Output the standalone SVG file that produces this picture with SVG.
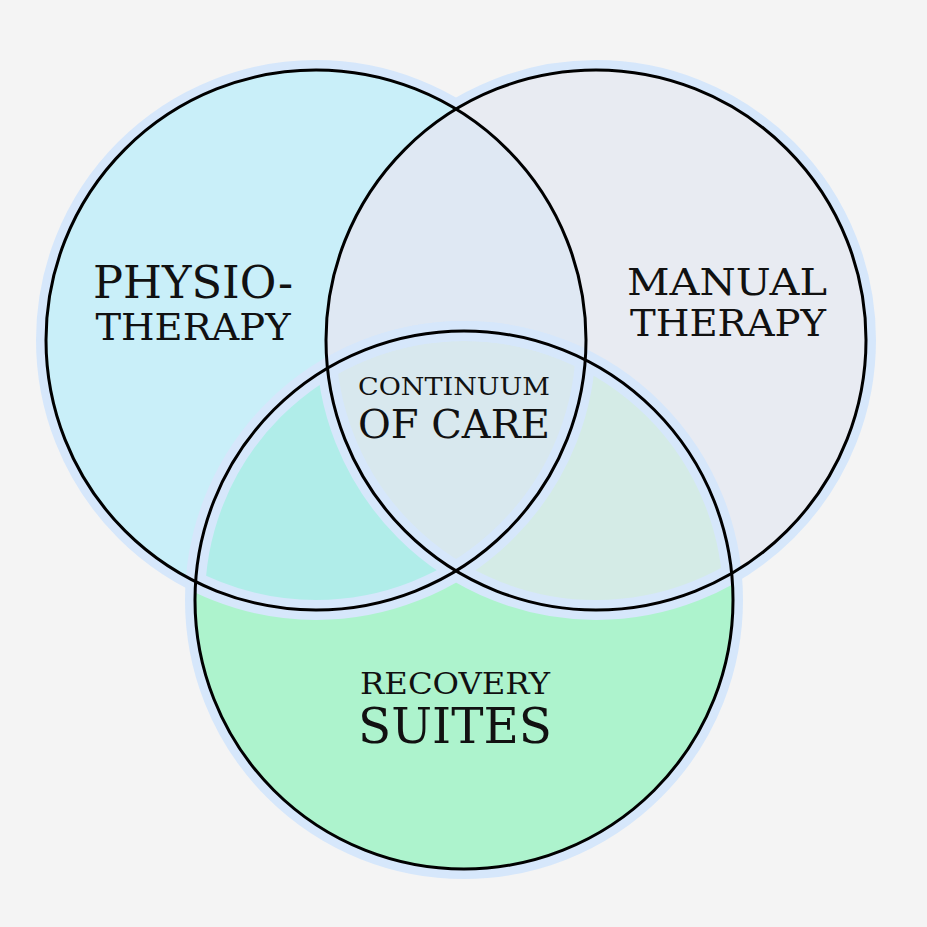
<svg xmlns="http://www.w3.org/2000/svg" width="927" height="927" viewBox="0 0 927 927">
<style>
.halo{fill:none;stroke:#d6e7fb;stroke-width:20}
.ln{fill:none;stroke:#000;stroke-width:3}
text{font-family:"DejaVu Serif","Liberation Serif",serif;fill:#111;text-anchor:middle}
</style>
<defs>
<clipPath id="cL"><circle cx="316" cy="340" r="270"/></clipPath>
<clipPath id="cR"><circle cx="596" cy="340" r="270"/></clipPath>
<clipPath id="cB"><circle cx="464" cy="600" r="269"/></clipPath>
</defs>
<rect width="927" height="927" fill="#f4f4f4"/>
<g id="halos">
<circle class="halo" cx="316" cy="340" r="270"/>
<circle class="halo" cx="596" cy="340" r="270"/>
<circle class="halo" cx="464" cy="600" r="269"/>
</g>
<g id="fills">
<circle cx="316" cy="340" r="270" fill="#c9eff9"/>
<circle cx="596" cy="340" r="270" fill="#e8ebf2"/>
<circle cx="464" cy="600" r="269" fill="#adf3cd"/>
<g clip-path="url(#cL)"><circle cx="596" cy="340" r="270" fill="#dfe8f3"/><circle cx="464" cy="600" r="269" fill="#b0ede9"/></g>
<g clip-path="url(#cR)"><circle cx="464" cy="600" r="269" fill="#d4ebe6"/></g>
<g clip-path="url(#cL)"><g clip-path="url(#cR)"><circle cx="464" cy="600" r="269" fill="#d8e8ee"/></g></g>
<g clip-path="url(#cB)">
<circle class="halo" cx="316" cy="340" r="270" stroke-width="9"/>
<circle class="halo" cx="596" cy="340" r="270" stroke-width="9"/>
</g>
<circle class="halo" cx="464" cy="600" r="269" stroke-width="9" clip-path="url(#cL)"/>
<circle class="halo" cx="464" cy="600" r="269" stroke-width="9" clip-path="url(#cR)"/>
</g>
<g id="connectors">
<circle class="ln" cx="316" cy="340" r="270"/>
<circle class="ln" cx="596" cy="340" r="270"/>
<circle class="ln" cx="464" cy="600" r="269"/>
</g>
<g id="physio"><text x="193" y="298" font-size="44" textLength="200" lengthAdjust="spacingAndGlyphs">PHYSIO-</text><text x="193" y="340" font-size="38" textLength="195" lengthAdjust="spacingAndGlyphs">THERAPY</text></g>
<g id="manual"><text x="727" y="295" font-size="38" textLength="200" lengthAdjust="spacingAndGlyphs">MANUAL</text><text x="728" y="336" font-size="38" textLength="196" lengthAdjust="spacingAndGlyphs">THERAPY</text></g>
<g id="continuum"><text x="454" y="395" font-size="25" textLength="192" lengthAdjust="spacingAndGlyphs">CONTINUUM</text><text x="454" y="438" font-size="40" textLength="192" lengthAdjust="spacingAndGlyphs">OF CARE</text></g>
<g id="recovery"><text x="455" y="694" font-size="30" textLength="190" lengthAdjust="spacingAndGlyphs">RECOVERY</text><text x="455" y="743" font-size="48" textLength="194" lengthAdjust="spacingAndGlyphs">SUITES</text></g>
</svg>
